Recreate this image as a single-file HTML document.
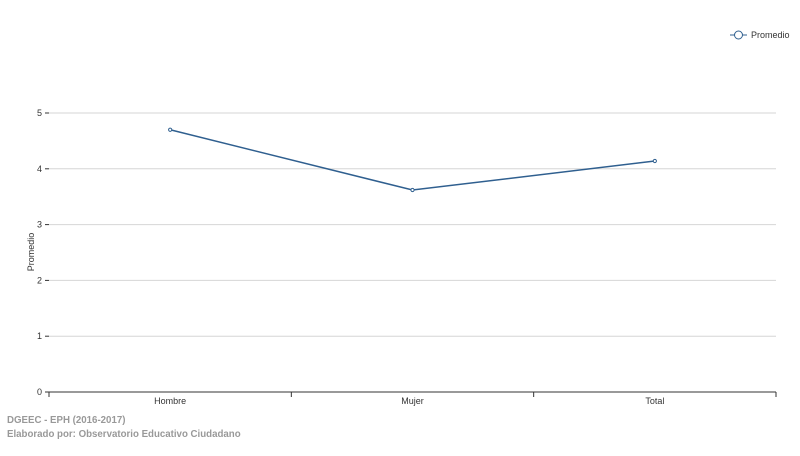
<!DOCTYPE html>
<html><head><meta charset="utf-8"><style>
body{margin:0;background:#fff;width:800px;height:451px;overflow:hidden;font-family:"Liberation Sans",sans-serif}
svg text{font-family:"Liberation Sans",sans-serif}
</style></head><body>
<svg id="c" width="800" height="451"></svg>
<script>
const categories=["Hombre","Mujer","Total"];
const values=[4.70,3.62,4.14];
const yTicks=[0,1,2,3,4,5];
const seriesName="Promedio";
const NS="http://www.w3.org/2000/svg";
const svg=document.getElementById('c');
const X0=49,X1=776,Y0=392,Y5=113;
const bw=(X1-X0)/categories.length;
const xs=i=>X0+bw*(i+0.5);
const ys=v=>Y0-(Y0-Y5)*v/5;
function mk(t,a,txt){const e=document.createElementNS(NS,t);for(const k in a)e.setAttribute(k,a[k]);if(txt!=null)e.textContent=txt;svg.appendChild(e);return e;}
yTicks.forEach(t=>{
 if(t>0){const g=mk('line',{x1:X0,x2:X1,y1:ys(t),y2:ys(t),stroke:'#d6d6d6','stroke-width':1});
 
 }
 const tk=mk('line',{x1:X0-4,x2:X0,y1:ys(t),y2:ys(t),stroke:'#333'});
 
 
 const l=mk('text',{x:X0-7,y:ys(t)+3,'text-anchor':'end','font-size':9,fill:'#333'},t);
 
 
});
const ax=mk('line',{x1:X0,x2:X1,y1:Y0,y2:Y0,stroke:'#333'});


for(let i=0;i<=categories.length;i++){const t=mk('line',{x1:X0+bw*i,x2:X0+bw*i,y1:Y0,y2:Y0+5,stroke:'#333'});
 
 }
categories.forEach((c,i)=>{const t=mk('text',{x:xs(i),y:Y0+12,'text-anchor':'middle','font-size':9,fill:'#333'},c);
 
 });
const yt=mk('text',{x:0,y:0,transform:'translate(34,252) rotate(-90)','text-anchor':'middle','font-size':9,fill:'#333'},seriesName);


const ln=mk('polyline',{points:values.map((v,i)=>xs(i)+','+ys(v)).join(' '),fill:'none',stroke:'#2f5f8f','stroke-width':1.5});


values.forEach((v,i)=>{const p=mk('circle',{cx:xs(i),cy:ys(v),r:1.6,fill:'#fff',stroke:'#2f5f8f','stroke-width':1});
 
 });
const lg=mk('g',{});


const l1=document.createElementNS(NS,'line');l1.setAttribute('x1',730);l1.setAttribute('x2',747);l1.setAttribute('y1',35);l1.setAttribute('y2',35);l1.setAttribute('stroke','#2f5f8f');lg.appendChild(l1);
const c1=document.createElementNS(NS,'circle');c1.setAttribute('cx',738.5);c1.setAttribute('cy',35);c1.setAttribute('r',4);c1.setAttribute('fill','#fff');c1.setAttribute('stroke','#2f5f8f');lg.appendChild(c1);
const t1=document.createElementNS(NS,'text');t1.setAttribute('x',751);t1.setAttribute('y',38);t1.setAttribute('font-size',9);t1.setAttribute('fill','#333');t1.textContent=seriesName;lg.appendChild(t1);
const f1=mk('text',{x:7,y:423,'font-size':9.7,'font-weight':'bold',fill:'#999'},'DGEEC - EPH (2016-2017)');


const f2=mk('text',{x:7,y:437,'font-size':9.7,'font-weight':'bold',fill:'#999'},'Elaborado por: Observatorio Educativo Ciudadano');


</script>
</body></html>
